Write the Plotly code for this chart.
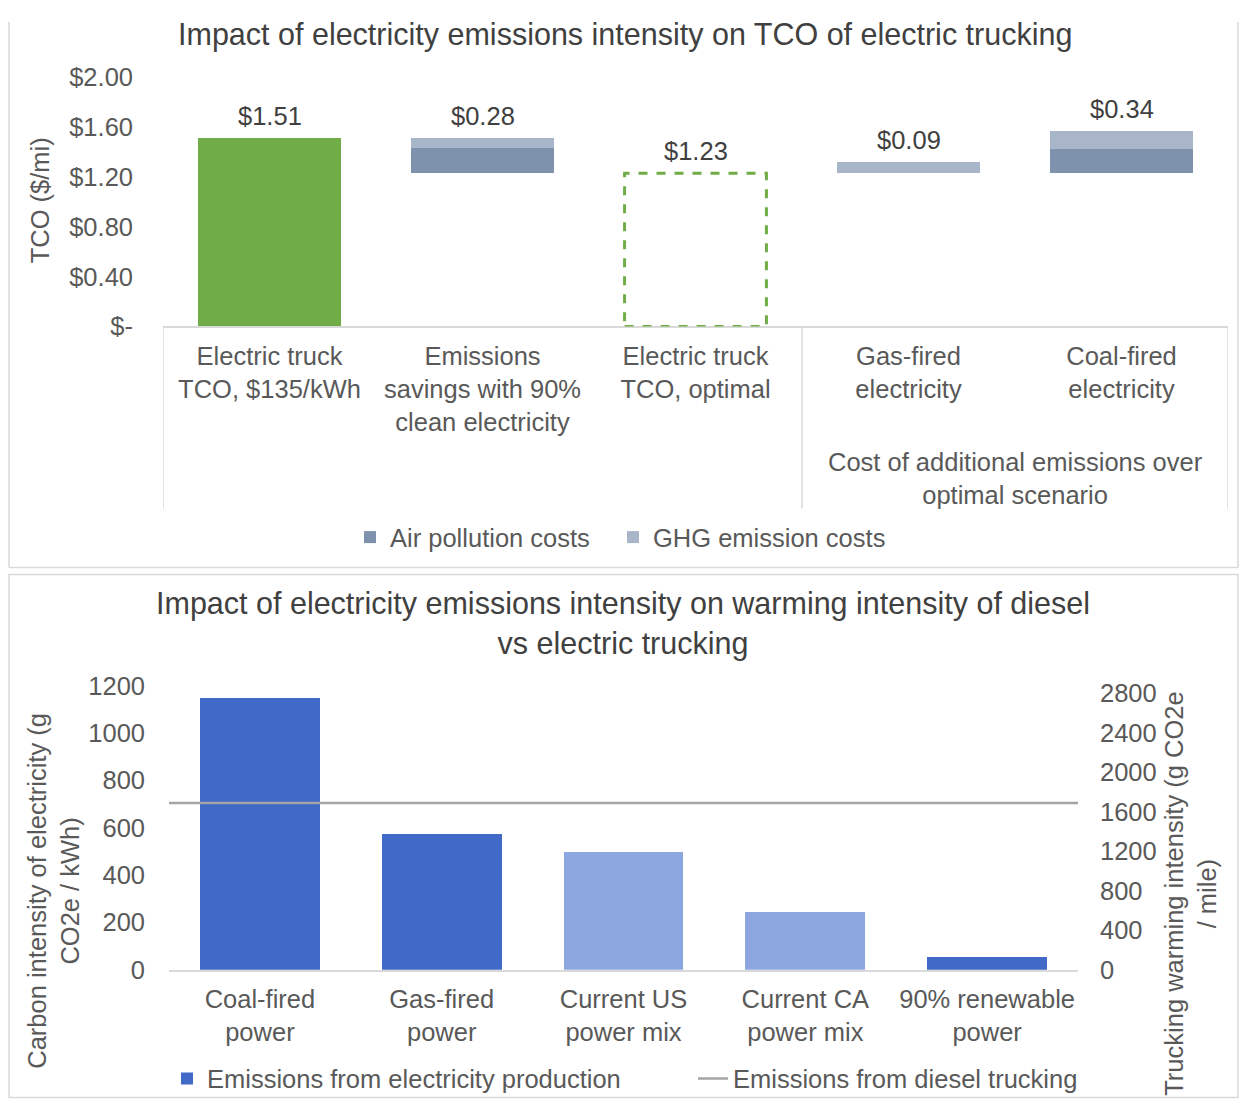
import plotly.graph_objects as go

# figure size chosen so the page (with the browser's default body margin) fits the window
WF, HF = 1231, 1104
OFF_X = 8
# empirical vertical mapping of the rendered page: screen_y = Y0 + SY * layout_y
Y0, SY = 21.8, 0.974


def fx(p):
    return (p - OFF_X) / WF


def fy(p):
    yl = (p - Y0) / SY
    yl = min(max(yl, 0.5), HF - 0.5)
    return 1 - yl / HF


FONT = "Liberation Sans, Arial, sans-serif"
TXT = "#595959"
TTL = "#404040"
FS = 25.5
TFS = 30.5
BORDER = "#d9d9d9"

# ---------------- Top chart data ----------------
tco_categories = [
    "Electric truck<br>TCO, $135/kWh",
    "Emissions<br>savings with 90%<br>clean electricity",
    "Electric truck<br>TCO, optimal",
    "Gas-fired<br>electricity",
    "Coal-fired<br>electricity",
]
tco_group_label = "Cost of additional emissions over<br>optimal scenario"
tco_current = 1.51          # Electric truck TCO at $135/kWh
tco_optimal = 1.23          # Electric truck TCO, optimal
air_pollution = [0.0, 0.20, 0.0, 0.00, 0.19]
ghg_emission = [0.0, 0.08, 0.0, 0.09, 0.15]
tco_ticks = [0, 0.4, 0.8, 1.2, 1.6, 2.0]
tco_ticktext = ["$-", "$0.40", "$0.80", "$1.20", "$1.60", "$2.00"]

# ---------------- Bottom chart data ----------------
power_categories = [
    "Coal-fired<br>power",
    "Gas-fired<br>power",
    "Current US<br>power mix",
    "Current CA<br>power mix",
    "90% renewable<br>power",
]
carbon_intensity = [1150, 575, 500, 245, 55]
diesel_trucking = 1690

GREEN = "#70ad47"
AIR_C = "#7f92ad"
GHG_C = "#a9b6ca"
DARK_BLUE = "#4169c8"
LIGHT_BLUE = "#8ca6e0"
power_colors = [DARK_BLUE, DARK_BLUE, LIGHT_BLUE, LIGHT_BLUE, DARK_BLUE]

fig = go.Figure()

idx = list(range(len(tco_categories)))
float_idx = [1, 3, 4]

# green bar
fig.add_trace(go.Bar(
    x=[0], y=[tco_current], width=0.667, marker=dict(color=GREEN, line=dict(width=0)),
    showlegend=False, xaxis="x", yaxis="y", hoverinfo="skip"))

# floating stacked bars (air pollution lower, GHG upper)
fig.add_trace(go.Bar(
    x=float_idx, y=[air_pollution[i] for i in float_idx],
    base=[tco_optimal for i in float_idx], width=0.667,
    marker=dict(color=AIR_C, line=dict(width=0)), name="Air pollution costs",
    legend="legend", xaxis="x", yaxis="y"))
fig.add_trace(go.Bar(
    x=float_idx, y=[ghg_emission[i] for i in float_idx],
    base=[tco_optimal + air_pollution[i] for i in float_idx], width=0.667,
    marker=dict(color=GHG_C, line=dict(width=0)), name="GHG emission costs",
    legend="legend3", xaxis="x", yaxis="y"))

# bottom bars
fig.add_trace(go.Bar(
    x=list(range(len(power_categories))), y=carbon_intensity, width=0.66,
    marker=dict(color=power_colors, line=dict(width=0)),
    name="Emissions from electricity production", legend="legend2",
    xaxis="x2", yaxis="y2"))
# dummy trace to activate right axis
fig.add_trace(go.Scatter(x=[None], y=[None], xaxis="x2", yaxis="y3", showlegend=False))

annotations = []
# value labels top chart
tops = [tco_current, tco_optimal + air_pollution[1] + ghg_emission[1], tco_optimal,
        tco_optimal + air_pollution[3] + ghg_emission[3], tco_optimal + air_pollution[4] + ghg_emission[4]]
vals = [tco_current, air_pollution[1] + ghg_emission[1], tco_optimal,
        air_pollution[3] + ghg_emission[3], air_pollution[4] + ghg_emission[4]]
for i, (t, v) in enumerate(zip(tops, vals)):
    annotations.append(dict(x=i, y=t, xref="x", yref="y", text=f"${v:.2f}", showarrow=False,
                            yanchor="bottom", yshift=6, font=dict(size=FS, color=TTL, family=FONT)))

annotations += [
    dict(text="Impact of electricity emissions intensity on TCO of electric trucking",
         x=fx(625), y=fy(34), xref="paper", yref="paper", showarrow=False,
         font=dict(size=TFS, color=TTL, family=FONT), xanchor="center", yanchor="middle"),
    dict(text="Impact of electricity emissions intensity on warming intensity of diesel<br>vs electric trucking",
         x=fx(623), y=fy(623), xref="paper", yref="paper", showarrow=False,
         font=dict(size=TFS, color=TTL, family=FONT), xanchor="center", yanchor="middle"),
    dict(text="TCO ($/mi)", textangle=-90, x=fx(40), y=fy(200), xref="paper", yref="paper",
         showarrow=False, xanchor="center", yanchor="middle",
         font=dict(size=FS, color=TXT, family=FONT)),
    dict(text=tco_group_label, x=3.5, xref="x", y=fy(478), yref="paper", showarrow=False,
         font=dict(size=FS, color=TXT, family=FONT), xanchor="center", yanchor="middle"),
    dict(text="Carbon intensity of electricity (g<br>CO2e / kWh)", textangle=-90,
         x=fx(54), y=fy(890), xref="paper", yref="paper", showarrow=False,
         xanchor="center", yanchor="middle",
         font=dict(size=FS, color=TXT, family=FONT)),
    dict(text="Trucking warming intensity (g CO2e<br>/ mile)", textangle=-90,
         x=fx(1191), y=fy(893), xref="paper", yref="paper", showarrow=False,
         xanchor="center", yanchor="middle",
         font=dict(size=FS, color=TXT, family=FONT)),
]

line_style = dict(color=BORDER, width=1.5)
shapes = [
    # dashed optimal box
    dict(type="rect", xref="x", yref="y", x0=2 - 0.333, x1=2 + 0.333, y0=0, y1=tco_optimal,
         line=dict(color=GREEN, width=3, dash="dash"), fillcolor="rgba(0,0,0,0)"),
    # category box lines
    dict(type="line", xref="x", yref="paper", x0=-0.5, x1=-0.5, y0=fy(326), y1=fy(508), line=line_style),
    dict(type="line", xref="x", yref="paper", x0=2.5, x1=2.5, y0=fy(326), y1=fy(508), line=line_style),
    dict(type="line", xref="x", yref="paper", x0=4.5, x1=4.5, y0=fy(326), y1=fy(508), line=line_style),
    # top panel border (left, right, bottom)
    dict(type="line", xref="paper", yref="paper", x0=fx(9), x1=fx(9), y0=fy(567), y1=1, line=line_style),
    dict(type="line", xref="paper", yref="paper", x0=fx(1238), x1=fx(1238), y0=fy(567), y1=1, line=line_style),
    dict(type="line", xref="paper", yref="paper", x0=fx(9), x1=fx(1238), y0=fy(567), y1=fy(567), line=line_style),
    # bottom panel border
    dict(type="rect", xref="paper", yref="paper", x0=fx(9), x1=fx(1238), y0=fy(1107), y1=fy(574),
         line=line_style),
    # diesel line
    dict(type="line", xref="x2 domain", yref="y3", x0=0, x1=1, y0=diesel_trucking, y1=diesel_trucking,
         line=dict(color="#a5a5a5", width=2.5), showlegend=True, legend="legend4",
         name="Emissions from diesel trucking"),
]

axis_font = dict(size=FS, color=TXT, family=FONT)
legend_font = dict(size=FS, color=TXT, family=FONT)


def legend_at(xpix, ypix):
    return dict(orientation="h", x=fx(xpix), y=fy(ypix), xanchor="left", yanchor="middle",
                font=legend_font, bgcolor="rgba(0,0,0,0)")


fig.update_layout(
    width=WF, height=HF, margin=dict(l=0, r=0, t=0, b=0),
    paper_bgcolor="white", plot_bgcolor="white",
    barmode="overlay", bargap=0,
    font=dict(family=FONT, color=TXT),
    xaxis=dict(domain=[fx(163), fx(1228)], range=[-0.5, 4.5], tickvals=idx, ticktext=tco_categories,
               showline=True, linecolor=BORDER, linewidth=1.5, showgrid=False, zeroline=False,
               tickfont=axis_font, ticks="", anchor="y", ticklabelstandoff=6),
    yaxis=dict(domain=[fy(326), fy(77)], range=[0, 2], tickvals=tco_ticks, ticktext=tco_ticktext,
               showgrid=False, zeroline=False, showline=False, tickfont=axis_font, anchor="x",
               ticklabelstandoff=29),
    xaxis2=dict(domain=[fx(169), fx(1078)], range=[-0.5, 4.5], tickvals=list(range(len(power_categories))),
                ticktext=power_categories, showline=True, linecolor=BORDER, linewidth=1.5,
                showgrid=False, zeroline=False, tickfont=axis_font, ticks="", anchor="y2",
                ticklabelstandoff=6),
    yaxis2=dict(domain=[fy(969), fy(685)], range=[0, 1200], dtick=200, showgrid=False,
                zeroline=False, showline=False, tickfont=axis_font, anchor="x2", ticklabelstandoff=23),
    yaxis3=dict(overlaying="y2", side="right", range=[0, 2880], dtick=400, showgrid=False,
                zeroline=False, showline=False, tickfont=axis_font, anchor="x2", ticklabelstandoff=21),
    legend=legend_at(350, 537),
    legend3=legend_at(613, 537),
    legend2=legend_at(167, 1078),
    legend4=legend_at(693, 1078),
    annotations=annotations,
    shapes=shapes,
)

fig.write_html("out.html")
